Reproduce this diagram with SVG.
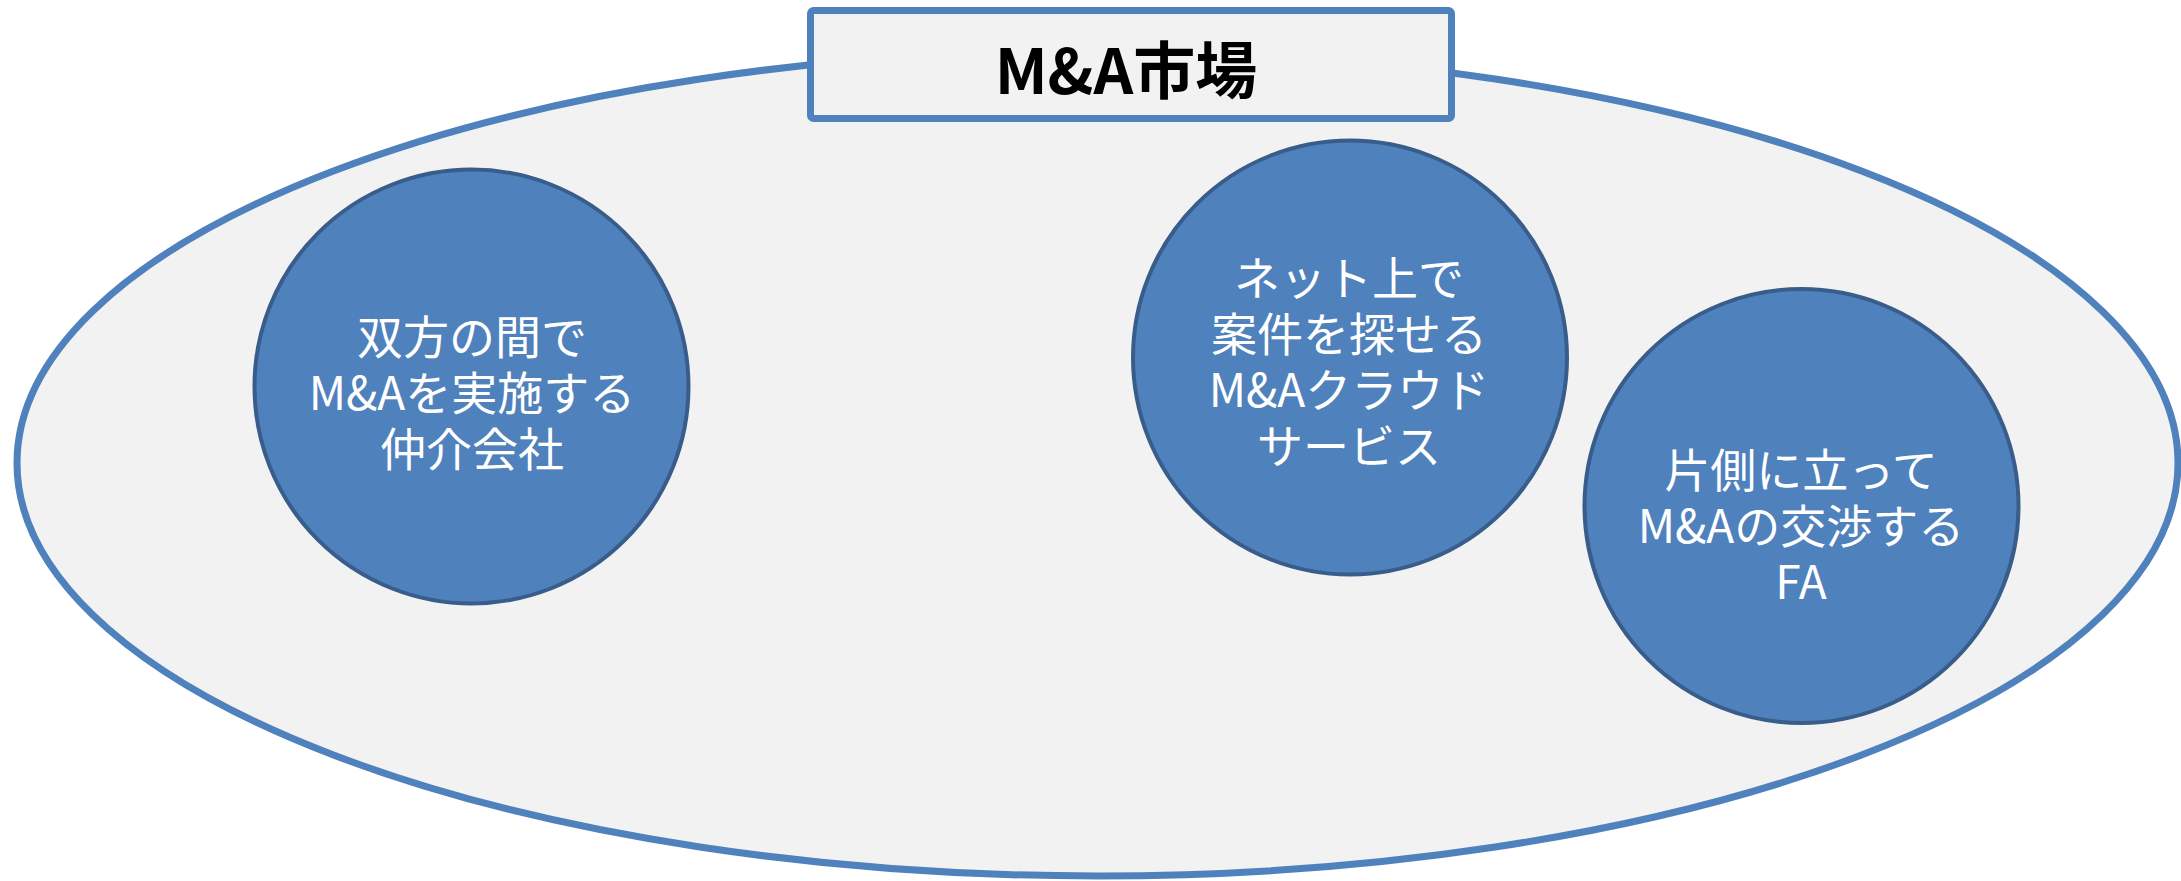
<svg xmlns="http://www.w3.org/2000/svg" width="2181" height="881" viewBox="0 0 2181 881">
<style>
.node circle{fill:#4f81bd;stroke:#385d8a;stroke-width:4}
.node text{fill:#ffffff;font-family:"Noto Sans CJK JP","Noto Sans",sans-serif;font-size:46px;text-anchor:middle}
.title{fill:#000000;font-family:"Noto Sans CJK JP","Noto Sans",sans-serif;font-size:62px;font-weight:bold;text-anchor:middle}
</style>
<rect x="0" y="0" width="2181" height="881" fill="#ffffff"/>
<g id="market">
<ellipse cx="1097.5" cy="463" rx="1080.5" ry="413" fill="#f2f2f2" stroke="#4f81bd" stroke-width="7"/>
</g>
<g id="title">
<rect x="810.5" y="10.5" width="641" height="108" rx="3" fill="#f2f2f2" stroke="#4f81bd" stroke-width="7"/>
<text class="title" x="1126" y="94">M&amp;A市場</text>
</g>
<g id="broker" class="node">
<circle cx="471.5" cy="386.5" r="217"/>
<text x="472" y="354">双方の間で</text>
<text x="472" y="410">M&amp;Aを実施する</text>
<text x="472" y="466">仲介会社</text>
</g>
<g id="cloud" class="node">
<circle cx="1350" cy="357.5" r="217"/>
<text x="1349" y="295">ネット上で</text>
<text x="1349" y="351">案件を探せる</text>
<text x="1349" y="407">M&amp;Aクラウド</text>
<text x="1349" y="463">サービス</text>
</g>
<g id="fa" class="node">
<circle cx="1801.5" cy="506" r="217"/>
<text x="1801" y="487">片側に立って</text>
<text x="1801" y="543">M&amp;Aの交渉する</text>
<text x="1801" y="599">FA</text>
</g>
<g id="connectors"></g>
</svg>
